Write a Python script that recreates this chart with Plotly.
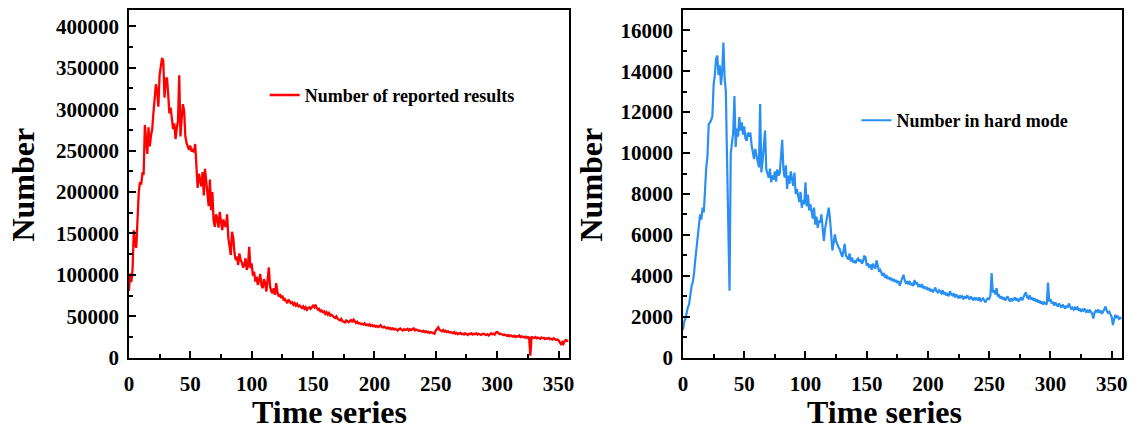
import plotly.graph_objects as go

reported = [
    80630, 101503, 91477, 107134, 153880, 137586, 132726, 169484, 199000, 212000,
    209000, 222000, 221000, 281000, 262000, 246000, 278000, 255000, 268000, 276000,
    296000, 311000, 330000, 322000, 303000, 341000, 353000, 361908, 358000, 314000,
    336000, 338000, 318000, 295000, 302000, 287000, 276000, 283000, 264000, 277000,
    286000, 341000, 267000, 289000, 306000, 298000, 267000, 259000, 254000, 251000,
    256000, 249000, 252000, 248000, 258000, 230000, 205000, 222000, 212000, 207000,
    224000, 196000, 228000, 213000, 197000, 183000, 215000, 178000, 200000, 165000,
    158000, 173000, 168000, 157000, 176000, 162000, 154000, 167000, 160000, 158000,
    173000, 145000, 131000, 124000, 152000, 145000, 127000, 118000, 122000, 112000,
    126000, 118000, 115000, 109000, 112000, 120000, 106000, 111000, 134000, 108000,
    114000, 99000, 104000, 92000, 98000, 88000, 94000, 101000, 87000, 84000,
    95000, 90000, 80000, 97000, 109000, 86000, 80000, 78000, 84000, 76000,
    90000, 79000, 74000, 77000, 72000, 75000, 70000, 71000, 68000, 66000,
    70000, 68000, 66000, 67000, 64000, 66000, 63000, 65000, 62000, 63000,
    61000, 60000, 62000, 59000, 61000, 58000, 60000, 61000, 59000, 62000,
    63000, 61000, 64000, 60000, 58000, 59000, 56000, 57000, 55000, 56000,
    53000, 55000, 52000, 54000, 51000, 52000, 50000, 49000, 48000, 50000,
    47000, 46000, 45000, 47000, 44000, 43500, 42600, 45000, 44000, 43000,
    44500, 45500, 43000, 46000, 44000, 42000, 43500, 41500, 42000, 40500,
    41000, 40000, 41500, 39500, 40000, 39000, 40500, 38500, 39500, 38000,
    39000, 37500, 38500, 37000, 38000, 39500, 37000, 36500, 37500, 36000,
    35500, 36500, 35000, 36000, 34500, 35500, 34000, 35000, 33500, 33000,
    34500, 35500, 34000, 33000, 34500, 33500, 34000, 35000, 33000, 34500,
    33500, 34500, 35500, 33000, 34000, 33500, 32500, 33000, 32000, 31500,
    32500, 31000, 32000, 30500, 31500, 30000, 31000, 30500, 30000, 29000,
    33000, 35500, 36700, 34000, 33000, 32000, 33500, 31500, 32500, 31000,
    32000, 30500, 31000, 30000, 29500, 31000, 29000, 30000, 28500, 29500,
    30000, 28500, 29000, 28000, 29500, 28500, 27500, 29000, 28500, 29500,
    28000, 29000, 28500, 29500, 28000, 29000, 28500, 27500, 28500, 29000,
    28000, 27500, 28500, 27000, 28000, 29500, 28500, 29000, 28000, 30500,
    31000, 29500, 28500, 29000, 28000, 27500, 28000, 27000, 26500, 27500,
    26000, 27000, 26500, 25500, 26500, 25000, 26000, 25500, 27000, 25000,
    26000, 25500, 24500, 25500, 24000, 25000, 24500, 2569, 25500, 24500,
    24000, 25000, 23500, 24500, 24000, 23000, 24500, 23500, 24000, 22500,
    23500, 23000, 24000, 22500, 23000, 22000, 23500, 22500, 21500, 22000,
    21000, 18500, 16500, 19000, 17000, 20000, 21500, 20500, 20380,
]

hard_mode = [
    1362, 1763, 1913, 2242, 2465, 2612, 3120, 3500, 3700, 4100,
    4770, 5300, 6100, 6670, 7000, 6750, 7330, 7100, 8570, 9300,
    9860, 11400, 11500, 11600, 11800, 13330, 13800, 14600, 14760, 13810,
    14290, 13330, 14000, 15400, 13650, 13000, 9600, 5900, 3270, 10000,
    10480, 11000, 12780, 10300, 11200, 10800, 11760, 11100, 11500, 10900,
    11300, 10700, 10600, 11000, 10800, 11000, 10400, 10100, 9700, 10200,
    9860, 9500, 9300, 12400, 9050, 9600, 10300, 11100, 9200, 9000,
    8800, 9240, 8570, 8900, 8700, 9100, 8600, 9200, 8900, 9000,
    9700, 10650, 9200, 8800, 9400, 8250, 8900, 8500, 9100, 8600,
    8400, 9050, 8000, 8250, 7800, 7600, 8100, 7330, 7700, 7500,
    8570, 7400, 7970, 7200, 7500, 7000, 6800, 7330, 6500, 6900,
    6350, 6700, 6600, 7000, 6400, 5710, 6300, 6600, 6900, 7330,
    6800, 5800, 5240, 5600, 6030, 5700, 5500, 5400, 5300, 5050,
    4920, 5200, 5560, 5000, 4900, 4800, 5100, 4700, 4900, 4650,
    4750, 4620, 4780, 4850, 4700, 4800, 4600, 4700, 4950, 4920,
    4500, 4620, 4400, 4550, 4300, 4600, 4450, 4350, 4760, 4400,
    4250, 4300, 4150, 4000, 4140, 3900, 4050, 3850, 3950, 3810,
    3900, 3750, 3850, 3700, 3800, 3650, 3750, 3520, 3700, 3900,
    4050, 3800, 3650, 3700, 3600, 3750, 3550, 3650, 3500, 3800,
    3600, 3700, 3500, 3550, 3450, 3600, 3400, 3500, 3350, 3450,
    3300, 3400, 3250, 3350, 3200, 3300, 3430, 3250, 3190, 3300,
    3200, 3150, 3300, 3100, 3200, 3050, 3150, 3000, 3250, 3100,
    3050, 3150, 2950, 3100, 3000, 2900, 3050, 2950, 3000, 2860,
    3000, 2900, 3050, 2950, 2850, 3000, 2900, 2800, 2950, 2850,
    2900, 2800, 2950, 2750, 2850, 2900, 2800, 2710, 2850, 2900,
    2870, 3050, 4140, 3190, 3300, 3100, 3400, 3000, 3050, 2900,
    3000, 2850, 2950, 2800, 2900, 3000, 2850, 2750, 2900, 2800,
    2850, 2950, 2800, 2900, 2750, 2850, 2950, 2800, 3000, 3100,
    3190, 2950, 2900, 3050, 2850, 2950, 2800, 2900, 2750, 2850,
    2700, 2800, 2650, 2750, 2600, 2700, 2650, 2600, 3670, 2750,
    2870, 2650, 2750, 2550, 2700, 2600, 2500, 2650, 2550, 2450,
    2600, 2500, 2400, 2550, 2450, 2650, 2500, 2400, 2450, 2350,
    2450, 2350, 2500, 2300, 2400, 2250, 2350, 2300, 2400, 2250,
    2300, 2200, 2350, 2250, 2150, 1920, 2200, 2300, 2250, 2350,
    2200, 2300, 2150, 2250, 2400, 2500, 2300, 2200, 2250, 2150,
    2000, 1600, 1900, 2100, 1950, 2050, 1900, 1950, 1919,
]

days = list(range(len(reported)))

W, H = 1137, 432
FONT = "Liberation Serif"

fig = go.Figure()
fig.add_trace(go.Scatter(x=days, y=reported, mode="lines", name="Number of reported results",
                         line=dict(color="#FF0000", width=2.3), xaxis="x", yaxis="y", legend="legend"))
fig.add_trace(go.Scatter(x=days, y=hard_mode, mode="lines", name="Number in hard mode",
                         line=dict(color="#2A8FF2", width=2.2), xaxis="x2", yaxis="y2", legend="legend2"))

tickfont = dict(family=FONT, size=21, color="black", weight="bold")
axis_common = dict(showline=True, linecolor="black", linewidth=1.5, mirror=True,
                   ticks="inside", ticklen=7, tickwidth=1.5, tickcolor="black",
                   showgrid=False, zeroline=False, tickfont=tickfont)
minor_x = dict(dtick=25, ticks="inside", ticklen=4, tickcolor="black", tickwidth=1.5)

yb = 1 - 368 / H
yt = 1 - 10 / H

fig.update_layout(
    width=W, height=H, margin=dict(l=0, r=0, t=0, b=0),
    paper_bgcolor="white", plot_bgcolor="white",
    xaxis=dict(domain=[125 / W, 569 / W], range=[0, 358.5], dtick=50, anchor="y",
               ticklabelstandoff=6, minor=minor_x, **axis_common),
    yaxis=dict(domain=[yb, yt], range=[0, 420000], dtick=50000, tickformat="d", anchor="x",
               ticklabelstandoff=4,
               minor=dict(dtick=25000, ticks="inside", ticklen=4, tickcolor="black", tickwidth=1.5),
               **axis_common),
    xaxis2=dict(domain=[684 / W, 1127 / W], range=[0, 358.5], dtick=50, anchor="y2",
                ticklabelstandoff=6, minor=minor_x, **axis_common),
    yaxis2=dict(domain=[yb, yt], range=[0, 17000], dtick=2000, tickformat="d", anchor="x2",
                ticklabelstandoff=4,
                minor=dict(dtick=1000, ticks="inside", ticklen=4, tickcolor="black", tickwidth=1.5),
                **axis_common),
    legend=dict(x=262 / W, y=1 - 98 / H, xanchor="left", yanchor="middle", bgcolor="rgba(0,0,0,0)",
                font=dict(family=FONT, size=18, color="black", weight="bold")),
    legend2=dict(x=859 / W, y=1 - 124 / H, xanchor="left", yanchor="middle", bgcolor="rgba(0,0,0,0)",
                 font=dict(family=FONT, size=18, color="black", weight="bold")),
    showlegend=True,
)

title_font = dict(family=FONT, size=32, color="black", weight="bold")
for xc in (18, 591):
    fig.add_annotation(text="Number", x=xc / W, y=1 - 190 / H, xref="paper", yref="paper",
                       showarrow=False, textangle=-90, font=title_font, xanchor="center", yanchor="middle")
for xc in (327, 887):
    fig.add_annotation(text="Time series", x=xc / W, y=1 - 424 / H, xref="paper", yref="paper",
                       showarrow=False, font=title_font, xanchor="center", yanchor="middle")

fig.write_html("out.html")
